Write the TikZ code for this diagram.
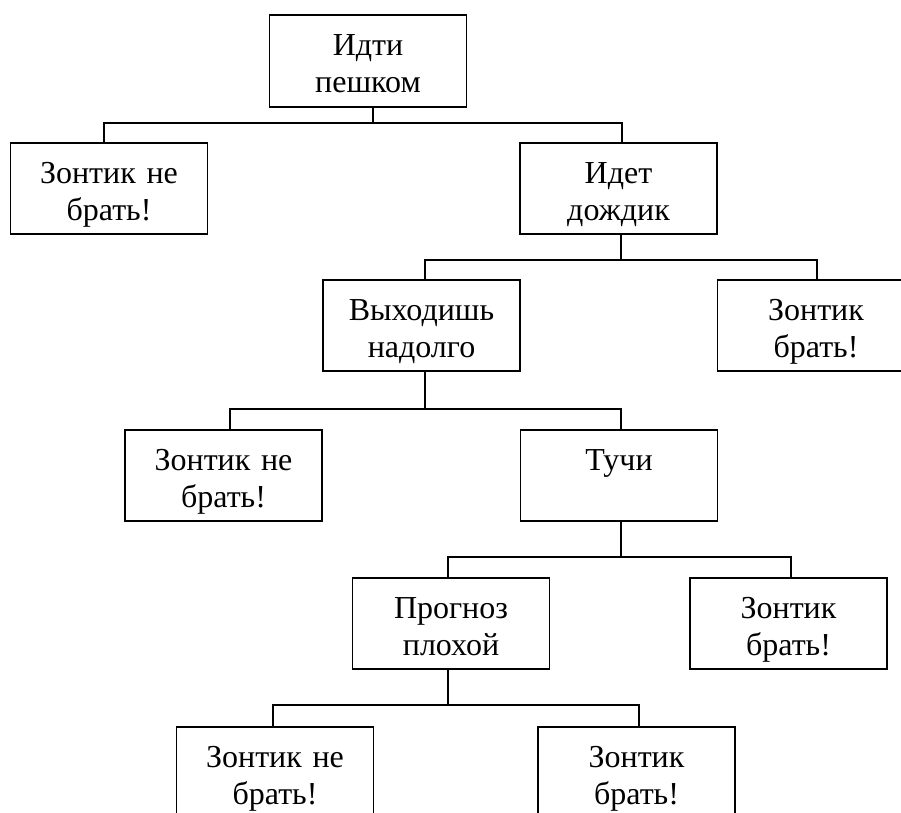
\documentclass[tikz,border=0pt]{standalone}
\usepackage{fontspec}
\setmainfont{Liberation Serif}
\begin{document}
\begin{tikzpicture}[x=1pt,y=-1pt,
  box/.style={draw=black, line width=1.7pt, minimum width=197pt, minimum height=91pt, inner sep=0pt, anchor=north},
  txt/.style={anchor=base, text width=190pt, align=center, inner sep=0pt, font=\fontsize{32}{37}\selectfont},
  conn/.style={draw=black, line width=1.7pt}]
\useasboundingbox (0,0) rectangle (901,812);
\clip (0,0) rectangle (901,812);
\fill[white] (0,0) rectangle (901,812);
% boxes
\node[box, minimum height=92pt] (b1) at (368,14) {};
\node[box] (b2) at (109,142) {};
\node[box] (b3) at (618.5,142) {};
\node[box] (b4) at (421.5,279) {};
\node[box] (b5) at (816,279) {};
\node[box] (b6) at (223.5,429) {};
\node[box] (b7) at (619,429) {};
\node[box] (b8) at (451,577) {};
\node[box] (b9) at (788.5,577) {};
\node[box] (b10) at (275,726) {};
\node[box] (b11) at (636.5,726) {};
% texts
\node[txt] (t1) at ([yshift=-41pt]b1.north) {Идти\\пешком};
\node[txt] (t2) at ([yshift=-41pt]b2.north) {Зонтик не\\брать!};
\node[txt] (t3) at ([yshift=-41pt]b3.north) {Идет\\дождик};
\node[txt] (t4) at ([yshift=-41pt]b4.north) {Выходишь\\надолго};
\node[txt] (t5) at ([yshift=-41pt]b5.north) {Зонтик\\брать!};
\node[txt] (t6) at ([yshift=-41pt]b6.north) {Зонтик не\\брать!};
\node[txt] (t7) at ([yshift=-41pt]b7.north) {Тучи};
\node[txt] (t8) at ([yshift=-41pt]b8.north) {Прогноз\\плохой};
\node[txt] (t9) at ([yshift=-41pt]b9.north) {Зонтик\\брать!};
\node[txt] (t10) at ([yshift=-41pt]b10.north) {Зонтик не\\брать!};
\node[txt] (t11) at ([yshift=-41pt]b11.north) {Зонтик\\брать!};
% junction coordinates
\coordinate (h1) at (373,123);
\coordinate (l1) at (104,123);
\coordinate (r1) at (622,123);
\coordinate (h2) at (621,260);
\coordinate (l2) at (425,260);
\coordinate (r2) at (817,260);
\coordinate (h3) at (425,409);
\coordinate (l3) at (230,409);
\coordinate (r3) at (621,409);
\coordinate (h4) at (621,557);
\coordinate (l4) at (448,557);
\coordinate (r4) at (791,557);
\coordinate (h5) at (448,705);
\coordinate (l5) at (273,705);
\coordinate (r5) at (639,705);
% connectors
\draw[conn] (h1 |- b1.south) -- (h1);
\draw[conn] (l1 |- b2.north) -- (l1) -- (r1) -- (r1 |- b3.north);
\draw[conn] (h2 |- b3.south) -- (h2);
\draw[conn] (l2 |- b4.north) -- (l2) -- (r2) -- (r2 |- b5.north);
\draw[conn] (h3 |- b4.south) -- (h3);
\draw[conn] (l3 |- b6.north) -- (l3) -- (r3) -- (r3 |- b7.north);
\draw[conn] (h4 |- b7.south) -- (h4);
\draw[conn] (l4 |- b8.north) -- (l4) -- (r4) -- (r4 |- b9.north);
\draw[conn] (h5 |- b8.south) -- (h5);
\draw[conn] (l5 |- b10.north) -- (l5) -- (r5) -- (r5 |- b11.north);
\end{tikzpicture}
\end{document}
